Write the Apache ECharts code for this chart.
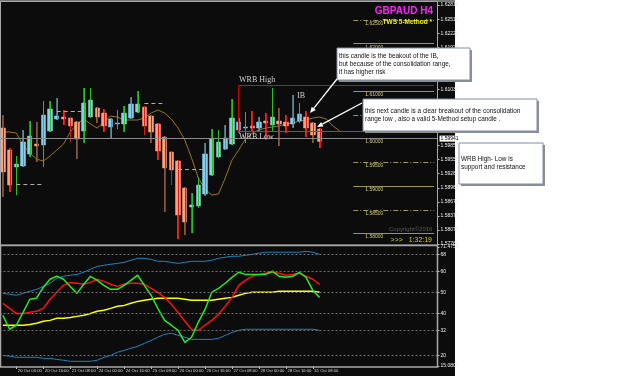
<!DOCTYPE html>
<html><head><meta charset="utf-8">
<script src="https://cdn.jsdelivr.net/npm/echarts@6/dist/echarts.min.js"></script>
<style>html,body{margin:0;padding:0;background:#fff;}#c{width:625px;height:376px;}</style>
</head><body><div id="c"></div>
<script>
// ---------- DATA ----------
const categories = ['19 Oct 16:00','19 Oct 20:00',
'20 Oct 00:00','20 Oct 04:00','20 Oct 08:00','20 Oct 12:00','20 Oct 16:00','20 Oct 20:00',
'21 Oct 00:00','21 Oct 04:00','21 Oct 08:00','21 Oct 12:00','21 Oct 16:00','21 Oct 20:00',
'24 Oct 00:00','24 Oct 04:00','24 Oct 08:00','24 Oct 12:00','24 Oct 16:00','24 Oct 20:00',
'25 Oct 00:00','25 Oct 04:00','25 Oct 08:00','25 Oct 12:00','25 Oct 16:00','25 Oct 20:00',
'26 Oct 00:00','26 Oct 04:00','26 Oct 08:00','26 Oct 12:00','26 Oct 16:00','26 Oct 20:00',
'27 Oct 00:00','27 Oct 04:00','27 Oct 08:00','27 Oct 12:00','27 Oct 16:00','27 Oct 20:00',
'28 Oct 00:00','28 Oct 04:00','28 Oct 08:00','28 Oct 12:00','28 Oct 16:00','28 Oct 20:00',
'31 Oct 00:00','31 Oct 04:00','31 Oct 08:00','31 Oct 12:00'];
const futureSlots = 17;

const opens = [1.60223,1.59760,1.59402,1.59423,1.59676,1.59886,1.59865,1.60160,1.60413,1.60455,
1.60434,1.60350,1.60160,1.60455,1.60645,1.60539,1.60245,1.60308,1.60308,1.60434,
1.60560,1.60666,1.60476,1.60308,1.60034,1.59718,1.59528,1.58959,1.58559,1.58580,
1.58833,1.59233,1.59613,1.59781,1.59886,1.60181,1.60223,1.60266,1.60223,1.60371,
1.60287,1.60371,1.60350,1.60308,1.60371,1.60455,1.60329,1.60202];
const closes = [1.59297,1.59023,1.59465,1.59929,1.60055,1.59844,1.60497,1.60624,1.60476,1.60413,
1.60266,1.59992,1.60750,1.60813,1.60455,1.60266,1.60413,1.60329,1.60539,1.60729,
1.60729,1.60266,1.60139,1.59739,1.59381,1.59339,1.58391,1.58243,1.58601,1.59023,
1.59676,1.59992,1.59929,1.60013,1.60434,1.60350,1.60245,1.60223,1.60350,1.60329,
1.60455,1.60308,1.60266,1.60434,1.60518,1.60223,1.60076,1.59941];
const lows = [1.58770,1.58875,1.58812,1.59402,1.59613,1.59507,1.59402,1.60139,1.60392,1.60287,
1.59929,1.59570,1.59907,1.60434,1.60329,1.60139,1.59992,1.60202,1.60139,1.60413,
1.60539,1.60076,1.59907,1.59549,1.58454,1.59023,1.57885,1.57969,1.58011,1.58538,
1.58791,1.59212,1.59591,1.59760,1.59865,1.60118,1.59907,1.60139,1.60139,1.59971,
1.60139,1.59844,1.60118,1.60223,1.60329,1.60034,1.59907,1.59802];
const highs = [1.60497,1.59802,1.59634,1.60181,1.60371,1.60350,1.60792,1.60792,1.60855,1.60603,
1.60455,1.60371,1.61066,1.61066,1.60666,1.60624,1.60434,1.60603,1.60687,1.60876,
1.61003,1.60687,1.60497,1.60329,1.60055,1.59739,1.59549,1.58980,1.58854,1.59191,
1.59907,1.60202,1.60181,1.60287,1.60834,1.60434,1.60560,1.60582,1.60455,1.60539,
1.61066,1.60645,1.60497,1.60919,1.60750,1.60582,1.60350,1.60223];

const maValues = [1.60139,1.60139,1.60118,1.59865,1.59697,1.59570,1.59528,1.59634,1.59760,1.59886,
1.60139,1.60308,1.60413,1.60308,1.60223,1.60350,1.60476,1.60455,1.60392,1.60392,
1.60392,1.60434,1.60539,1.60603,1.60539,1.60413,1.60223,1.59971,1.59591,1.59170,
1.58938,1.58812,1.58833,1.59170,1.59549,1.59760,1.59992,1.60118,1.60181,1.60223,
1.60245,1.60266,1.60308,1.60329,1.60371,1.60392,1.60434,1.60455,1.60413,1.60266,1.60160];

const priceTicks = [1.62815,1.62515,1.62220,1.61925,1.61630,1.61335,1.61035,1.60740,1.60445,1.60150,
1.59855,1.59555,1.59260,1.58965,1.58670,1.58370,1.58075,1.57780];
const priceMin = 1.57780, priceMax = 1.62815;
const roundLevels = [1.625,1.62,1.615,1.61,1.605,1.60,1.595,1.59,1.585,1.58];
const bidPrice = 1.59941;
const wrbHigh = 1.61129, wrbLow = 1.60150, wrbStart = 35;
const fractalSegments = [[2,6,1.59044],[8,12,1.60582],[21,24,1.60750],[26,30,1.59360]];

const tdiGreen = [39.1,32.5,34.4,40.5,46.7,47.2,52.4,56.2,57.6,56.2,
52.8,49.5,53.8,57.6,55.7,53.3,51.4,51.4,53.3,55.7,
58.1,53.3,48.6,42.4,36.7,34.4,32.0,26.3,28.7,35.8,
41.9,50.0,51.9,54.3,57.1,59.5,58.5,58.5,58.5,58.5,
60.0,57.6,57.1,57.6,59.5,57.1,50.9,47.6];
const tdiRed = [44.8,42.4,40.0,40.0,40.5,41.0,42.4,46.7,50.0,53.3,
54.7,54.3,53.8,54.7,56.2,55.2,53.8,52.8,53.8,54.3,
54.3,53.8,51.9,50.0,47.6,44.3,40.5,36.3,32.5,32.0,
34.4,36.7,39.6,43.4,47.6,53.3,55.7,57.6,58.5,59.0,
59.5,59.0,58.1,58.5,59.0,57.6,56.2,53.8];
const tdiYellow = [34.4,34.4,34.4,34.4,34.8,35.3,36.3,36.7,37.7,37.7,
38.1,38.6,39.1,40.0,41.0,41.5,42.4,43.4,43.8,44.8,
45.7,46.2,46.7,47.2,47.2,47.2,47.2,46.7,46.2,46.2,
46.2,46.2,46.7,47.2,47.6,48.6,49.5,50.0,50.0,50.0,
50.0,50.5,50.5,50.5,50.5,50.5,50.5,50.0];
const bandUpper = [49.5,49.1,48.6,49.5,50.5,51.4,52.8,54.3,56.6,57.6,
58.1,58.5,59.5,60.9,62.3,62.8,63.3,63.7,64.2,65.2,
66.1,66.1,65.6,64.7,64.7,64.2,63.7,64.2,64.7,64.7,
64.7,65.2,66.1,66.6,67.1,67.1,67.5,68.0,68.5,69.0,
69.0,69.0,69.0,69.0,69.0,69.4,69.0,68.0];
const bandLower = [20.1,19.7,19.2,19.2,19.2,19.2,18.7,18.7,18.2,17.8,
17.3,17.3,17.3,17.3,17.8,19.2,20.1,21.6,22.5,23.5,
24.4,25.8,27.2,28.7,30.1,30.6,29.6,28.7,27.7,27.7,
27.7,27.7,28.2,29.6,31.0,32.0,32.5,32.5,32.5,32.5,
32.5,32.5,32.5,32.5,32.5,32.5,32.5,32.0];
const oscLevels = [68,60,50,40,32,20];
const oscMin = 15.08, oscMax = 71.4756;
const oscTicks = [71.4756,68,60,50,40,32,20,15.08];

// ---------- BUILD ----------
const xData = categories.concat(Array.from({length:futureSlots},(_, k)=>'f'+k));
const showLabel = (idx)=> idx%4===2 && idx<categories.length;
const candles = opens.map((o,i)=>[o, closes[i], lows[i], highs[i]]);
const wickData = opens.map((o,i)=>[i, highs[i], lows[i], o, closes[i]]);
const lastIdx = xData.length-1;

const levelMarks = roundLevels.map(v=>{
  const solid = Math.abs(v*100-Math.round(v*100))<1e-6;
  return [{coord:[52,v], lineStyle:{color:'#9c9650', width:1, type: solid?'solid':[5,2,1,2]}},{coord:[lastIdx,v]}];
});
const fractalMarks = fractalSegments.map(s=>[{coord:[s[0],s[2]], lineStyle:{color:'#b0b0b0', width:1, type:[4,3]}},{coord:[s[1],s[2]]}]);
const wrbMarks = [
  [{coord:[wrbStart,wrbHigh], lineStyle:{color:'#0f6e0f', width:1, type:'solid'}},{coord:[lastIdx,wrbHigh]}],
  [{coord:[wrbStart,wrbLow], lineStyle:{color:'#1d8a1d', width:1.2, type:'solid'}},{coord:[lastIdx,wrbLow]}],
  [{coord:[wrbStart,wrbLow], lineStyle:{color:'#d00000', width:1, type:'solid'}},{coord:[wrbStart,wrbHigh]}]
];

const FS = 'Liberation Sans';
function arrow(x1,y1,x2,y2){
  const a=Math.atan2(y2-y1,x2-x1), L=6, W=2.6;
  const bx=x2-L*Math.cos(a), by=y2-L*Math.sin(a);
  const px=-Math.sin(a)*W, py=Math.cos(a)*W;
  return [
    {type:'line', z:100, shape:{x1:x1,y1:y1,x2:bx,y2:by}, style:{stroke:'#ffffff', lineWidth:1.3}},
    {type:'polygon', z:100, shape:{points:[[x2,y2],[bx+px,by+py],[bx-px,by-py]]}, style:{fill:'#ffffff'}}
  ];
}
function box(x,y,w,h,lines,tx,ty0,lh){
  const els=[
    {type:'rect', z:99, shape:{x:x+2,y:y+2,width:w,height:h}, style:{fill:'#8e8e8e'}},
    {type:'rect', z:100, shape:{x:x,y:y,width:w,height:h}, style:{fill:'#ffffff', stroke:'#7c8ea6', lineWidth:1}}
  ];
  lines.forEach((t,k)=>els.push({type:'text', z:101, style:{text:t, x:tx, y:ty0+k*lh, fill:'#111', font:'6.4px '+FS, textVerticalAlign:'middle'}}));
  return els;
}

const graphics = [
  {type:'rect', z:-10, shape:{x:0,y:0,width:455,height:376}, style:{fill:'#0c0c0c'}},
  {type:'line', z:50, shape:{x1:0,y1:1,x2:455,y2:1}, style:{stroke:'#9a9a9a', lineWidth:1.5}},
  {type:'rect', z:50, shape:{x:0.5,y:1.5,width:437,height:243.5}, style:{fill:'none', stroke:'#a8a8a8', lineWidth:1}},
  {type:'rect', z:50, shape:{x:0.5,y:245.5,width:437,height:121.5}, style:{fill:'none', stroke:'#a8a8a8', lineWidth:1.5}},
  {type:'text', z:60, style:{text:'GBPAUD H4', x:433, y:11, fill:'#ff22ff', font:'bold 10px '+FS, textAlign:'right', textVerticalAlign:'middle'}},
  {type:'text', z:60, style:{text:'TWS 5-Method *', x:432, y:22, fill:'#f0f000', font:'bold 6.5px '+FS, textAlign:'right', textVerticalAlign:'middle'}},
  {type:'text', z:60, style:{text:'Copyright\u00a92016', x:389, y:229, fill:'#5c5c5c', font:'6px '+FS, textVerticalAlign:'middle'}},
  {type:'text', z:60, style:{text:'>>>   1:32:19', x:432, y:240, fill:'#d8d800', font:'7px '+FS, textAlign:'right', textVerticalAlign:'middle'}},
  {type:'text', z:60, style:{text:'WRB High', x:239, y:80, fill:'#cfcfcf', font:'8px Liberation Serif', textVerticalAlign:'middle'}},
  {type:'text', z:60, style:{text:'WRB Low', x:239, y:137, fill:'#cfcfcf', font:'8px Liberation Serif', textVerticalAlign:'middle'}},
  {type:'text', z:60, style:{text:'IB', x:297, y:96, fill:'#cfcfcf', font:'8px Liberation Serif', textVerticalAlign:'middle'}}
]
.concat(box(337,48,133,32,['this candle is the beakout of the IB,','but because of the consolidation range,','it has higher risk'],339,56,8))
.concat(box(363,99,174,32,['this next candle is a clear breakout of the consolidation','range low , also a valid 5-Method setup candle .'],365,111,8))
.concat(box(459,143,84,41,['WRB High- Low is','support and resistance'],461,159,8))
.concat(arrow(337,79,310,113))
.concat(arrow(362,103,317,127));

const chart = echarts.init(document.getElementById('c'), null, {renderer:'canvas'});
chart.setOption({
  backgroundColor:'#ffffff',
  animation:false,
  grid:[
    {left:-0.5, top:5, width:438, height:239, outerBoundsMode:'none', containLabel:false},
    {left:-0.5, top:247, width:438, height:119, outerBoundsMode:'none', containLabel:false}
  ],
  xAxis:[
    {type:'category', gridIndex:0, data:xData, boundaryGap:true, axisLine:{show:false}, axisTick:{show:false}, axisLabel:{show:false}, splitLine:{show:false}},
    {type:'category', gridIndex:1, data:xData, boundaryGap:true, axisLine:{show:false},
      axisTick:{show:true, alignWithLabel:true, interval:(i)=>showLabel(i), length:3, lineStyle:{color:'#bdbdbd'}},
      axisLabel:{show:true, interval:(i)=>showLabel(i), align:'left', color:'#d6d6d6', fontSize:4.2, fontFamily:FS, margin:3, padding:[0,0,0,1.5]},
      splitLine:{show:false}}
  ],
  yAxis:[
    {type:'value', gridIndex:0, position:'right', min:priceMin, max:priceMax, axisLine:{show:false}, splitLine:{show:false},
      axisTick:{show:true, customValues:priceTicks, length:2, lineStyle:{color:'#bdbdbd'}},
      axisLabel:{customValues:priceTicks, formatter:(v)=>v.toFixed(5), color:'#eeeeee', fontSize:5, fontFamily:FS, margin:3, align:'left'}},
    {type:'value', gridIndex:1, position:'right', min:oscMin, max:oscMax, axisLine:{show:false}, splitLine:{show:false},
      axisTick:{show:true, customValues:oscTicks, length:2, lineStyle:{color:'#bdbdbd'}},
      axisLabel:{customValues:oscTicks, formatter:(v)=>Number.isInteger(v)?String(v):v.toFixed(4), color:'#eeeeee', fontSize:5, fontFamily:FS, margin:3, align:'left'}}
  ],
  series:[
    {type:'line', name:'MA', xAxisIndex:0, yAxisIndex:0, data:maValues, symbol:'none', lineStyle:{color:'#9a7420', width:1}, z:2},
    {type:'candlestick', xAxisIndex:0, yAxisIndex:0, data:candles, barWidth:'72%',
      itemStyle:{color:'#87CEEB', color0:'#FFA07A', borderColor:'#87CEEB', borderColor0:'#FFA07A', borderWidth:0.5}, z:3},
    {type:'custom', name:'wicks', xAxisIndex:0, yAxisIndex:0, data:wickData, encode:{x:0, y:[1,2]}, z:4,
      renderItem:(params, api)=>{
        const i=api.value(0);
        const p1=api.coord([i, api.value(1)]), p2=api.coord([i, api.value(2)]);
        const up = api.value(4) >= api.value(3);
        const x=Math.round(p1[0])+0.5;
        return {type:'line', shape:{x1:x, y1:p1[1], x2:x, y2:p2[1]}, style:{stroke: up?'#22c322':'#e01414', lineWidth:1}};
      },
      markLine:{silent:true, symbol:'none', animation:false, label:{show:false},
        data: levelMarks.concat(fractalMarks, wrbMarks, [
          {yAxis:bidPrice, lineStyle:{color:'#8a8a8a', width:1, type:'solid'},
           label:{show:true, position:'end', distance:2, formatter:'1.59941', backgroundColor:'#ffffff', color:'#000', fontSize:5, fontFamily:FS, padding:[1,1,0,1]}}
        ])}
    },
    {type:'custom', name:'levelLabels', xAxisIndex:0, yAxisIndex:0, data:roundLevels.map(v=>[52,v]), encode:{x:0,y:1}, z:5,
      renderItem:(params, api)=>{
        const p=api.coord([api.value(0), api.value(1)]);
        return {type:'text', x:p[0]+12, y:p[1]+1, style:{text:api.value(1).toFixed(5), fill:'#d2ca7a', font:'5px '+FS, textVerticalAlign:'top'}};
      }
    },
    {type:'line', name:'bandUpper', xAxisIndex:1, yAxisIndex:1, data:bandUpper, symbol:'none', lineStyle:{color:'#1b86c0', width:1},
      markLine:{silent:true, symbol:'none', label:{show:false}, lineStyle:{color:'#6e6e6e', type:[2,2], width:1},
        data: oscLevels.map(v=>({yAxis:v}))}},
    {type:'line', name:'bandLower', xAxisIndex:1, yAxisIndex:1, data:bandLower, symbol:'none', lineStyle:{color:'#1b86c0', width:1}},
    {type:'line', name:'yellow', xAxisIndex:1, yAxisIndex:1, data:tdiYellow, symbol:'none', lineStyle:{color:'#ffff00', width:1.5}},
    {type:'line', name:'red', xAxisIndex:1, yAxisIndex:1, data:tdiRed, symbol:'none', lineStyle:{color:'#ff1010', width:1.5}},
    {type:'line', name:'green', xAxisIndex:1, yAxisIndex:1, data:tdiGreen, symbol:'none', lineStyle:{color:'#22ee22', width:1.5}}
  ],
  graphic:{elements:graphics}
});
</script></body></html>
